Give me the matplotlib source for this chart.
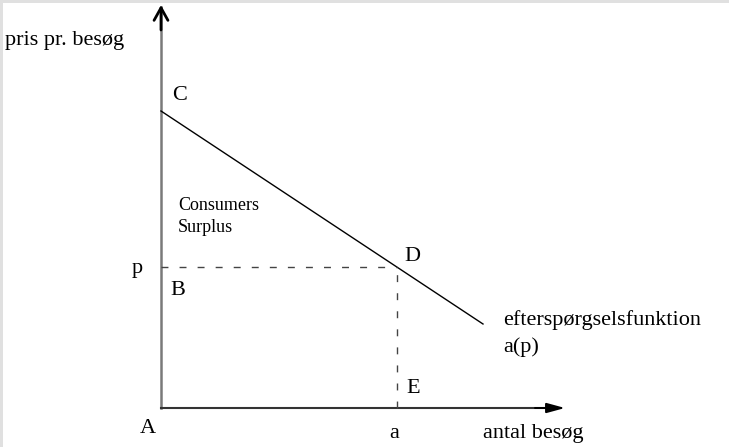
import matplotlib
matplotlib.use('Agg')
import matplotlib.pyplot as plt

# data: efterspørgselskurve og pris/mængde (enheder = afstand fra origo)
demand_q = [0, 322]
demand_p = [297, 84]
price_p = 141
quantity_a = 236
axis_q_max = 404
axis_p_max = 403

plt.rcParams['font.family'] = ['Liberation Serif', 'DejaVu Serif']

fig = plt.figure(figsize=(7.29, 4.47), dpi=100, facecolor='#e0e0e0')
ax = fig.add_axes([3 / 729, 0, 1 - 3 / 729, 1 - 3 / 447])
ax.set_facecolor('white')
ax.set_xlim(-158, 568)
ax.set_ylim(-39, 405)
ax.set_xticks([])
ax.set_yticks([])
for sp in ax.spines.values():
    sp.set_visible(False)

# akser med pile
ax.plot([0, 0], [0, axis_p_max - 2], color='#7a7a7a', lw=1.8)
ax.annotate('', xy=(0, axis_p_max), xytext=(0, axis_p_max - 25),
            arrowprops=dict(arrowstyle='->,head_length=0.9,head_width=0.5',
                            color='black', lw=2.0, shrinkA=0, shrinkB=0))
ax.plot([0, axis_q_max - 10], [0, 0], color='#333333', lw=1.5)
ax.annotate('', xy=(axis_q_max, 0), xytext=(axis_q_max - 30, 0),
            arrowprops=dict(arrowstyle='-|>,head_length=1.1,head_width=0.3',
                            color='black', lw=1.4, shrinkA=0, shrinkB=0))

# efterspørgselsfunktion
ax.plot(demand_q, demand_p, color='black', lw=1.0)

# stiplede linjer
ax.plot([0, quantity_a], [price_p, price_p], color='#444444', lw=1.0,
        dashes=(5, 8))
ax.plot([quantity_a, quantity_a], [0, price_p], color='#444444', lw=1.0,
        dashes=(5, 8))

# tekster
big = 16
ax.text(-156, 368, 'pris pr. besøg', fontsize=16, va='center', ha='left')
ax.text(11, 313, 'C', fontsize=big, va='center', ha='left')
ax.text(17, 203, 'Consumers', fontsize=13, va='center', ha='left')
ax.text(17, 180, 'Surplus', fontsize=13, va='center', ha='left')
ax.text(-29, 135, 'p', fontsize=big, va='baseline', ha='left')
ax.text(9, 113, 'B', fontsize=big, va='baseline', ha='left')
ax.text(243, 147, 'D', fontsize=big, va='baseline', ha='left')
ax.text(245, 15, 'E', fontsize=big, va='baseline', ha='left')
ax.text(-21, -25, 'A', fontsize=big, va='baseline', ha='left')
ax.text(228, -30, 'a', fontsize=big, va='baseline', ha='left')
ax.text(322, -30, 'antal besøg', fontsize=16, va='baseline', ha='left')
ax.text(342, 83, 'efterspørgselsfunktion', fontsize=16, va='baseline', ha='left')
ax.text(342, 56, 'a(p)', fontsize=16, va='baseline', ha='left')

fig.savefig('out.png', dpi=100, facecolor=fig.get_facecolor())
